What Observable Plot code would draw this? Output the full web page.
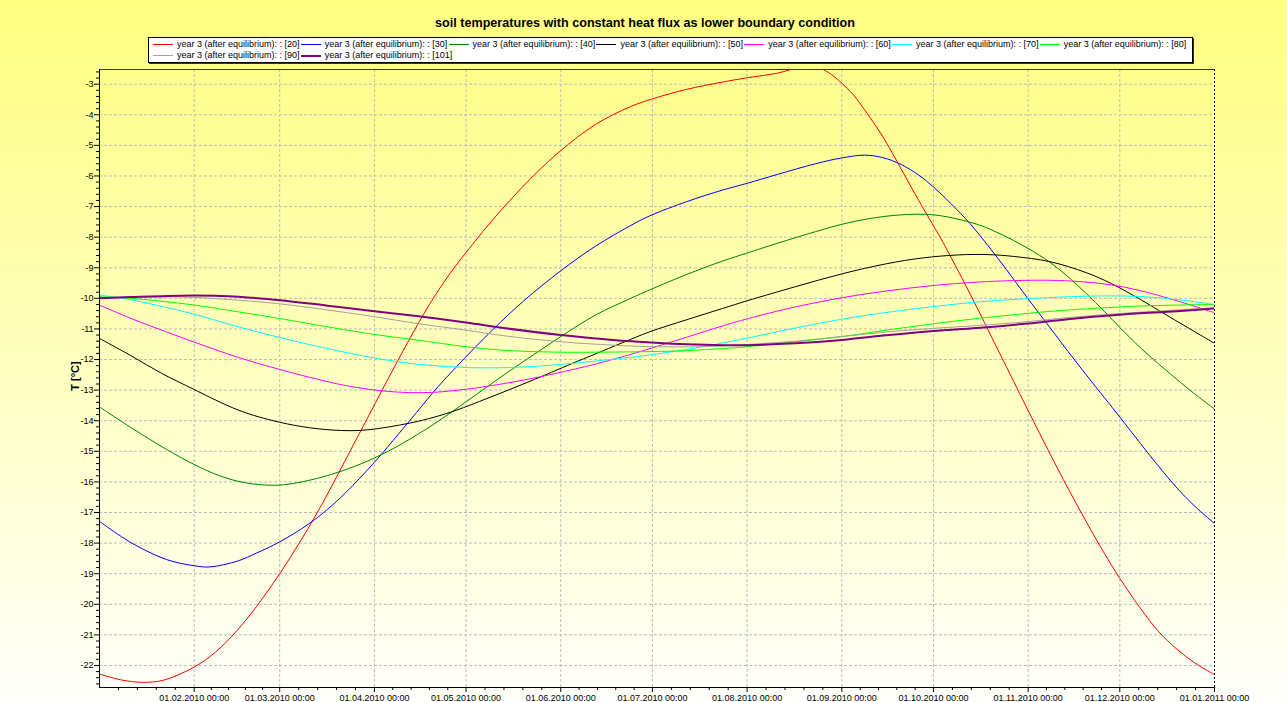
<!DOCTYPE html>
<html><head><meta charset="utf-8">
<script src="https://cdn.jsdelivr.net/npm/d3@7"></script>
<script src="https://cdn.jsdelivr.net/npm/@observablehq/plot@0.6"></script>
<style>
html,body{margin:0;padding:0;}
body{width:1287px;height:702px;overflow:hidden;background:linear-gradient(to bottom,#ffff80 0%,#fffffb 100%);font-family:Arial,"Liberation Sans",sans-serif;}
#wrap{position:relative;width:1287px;height:702px;}
#chart{position:absolute;left:0;top:0;}
#title{position:absolute;left:0;width:1290px;top:16px;text-align:center;font-weight:bold;font-size:12.6px;color:#000;}
#legend{position:absolute;left:148px;top:37px;width:1043px;height:24px;background:#fff;border:1px solid #000;box-shadow:1px 1px 0 #333;}
.item{position:absolute;font-size:9px;line-height:11px;white-space:nowrap;color:#000;}
.sw{position:absolute;left:0;top:5px;width:20px;height:0;border-top:1px solid;}
.lbl{position:absolute;left:24px;top:0;}
#ylab{position:absolute;left:75px;top:376px;transform:translate(-50%,-50%) rotate(-90deg);font-weight:bold;font-size:11px;white-space:nowrap;}
</style></head>
<body><div id="wrap"><div id="chart"></div>
<div id="title">soil temperatures with constant heat flux as lower boundary condition</div>
<div id="legend"></div>
<div id="ylab">T [°C]</div>
</div>
<script>
// series: [day offset from 01.01.2010, temperature °C]
const s20 = [[0,-22.28],[7,-22.47],[14,-22.55],[21,-22.48],[31,-22.05],[38,-21.56],[45,-20.86],[52,-19.99],[59,-19.0],[66,-17.9],[73,-16.7],[80,-15.38],[87,-14.05],[94,-12.72],[101,-11.42],[108,-10.2],[115,-9.15],[122,-8.25],[129,-7.4],[136,-6.62],[143,-5.9],[151,-5.17],[162.3,-4.32],[173.9,-3.73],[181,-3.48],[192.2,-3.17],[204,-2.93],[212,-2.79],[221.9,-2.64],[229,-2.46],[235,-2.46],[238.5,-2.61],[243,-2.97],[246.8,-3.35],[251.6,-4.0],[256.4,-4.71],[261.1,-5.53],[265.9,-6.4],[270.6,-7.22],[275.4,-8.04],[278.9,-8.69],[283.7,-9.6],[288.5,-10.55],[293.3,-11.52],[296.8,-12.22],[304,-13.67],[311.1,-15.07],[317,-16.2],[323,-17.3],[328.9,-18.33],[334,-19.15],[340.8,-20.14],[346.8,-20.9],[352.7,-21.47],[358.6,-21.92],[365,-22.3]];
const s30 = [[0,-17.29],[10.4,-17.99],[22,-18.54],[31,-18.74],[36.1,-18.78],[45.4,-18.58],[51.3,-18.33],[59,-17.96],[68.4,-17.38],[74.6,-16.9],[80.5,-16.36],[90,-15.36],[98,-14.42],[103.8,-13.73],[110.9,-12.88],[122.5,-11.65],[129.5,-10.95],[138.9,-10.08],[151,-9.1],[162.3,-8.3],[173.9,-7.62],[180.2,-7.3],[192.2,-6.84],[204,-6.46],[212,-6.24],[221.9,-5.95],[234.4,-5.6],[243,-5.41],[250.4,-5.32],[256.4,-5.4],[262.3,-5.62],[268.3,-5.98],[273,-6.36],[278.9,-6.92],[284.9,-7.55],[290.9,-8.28],[296.8,-9.05],[304,-10.02],[311.1,-10.95],[317,-11.73],[323,-12.5],[328.9,-13.24],[334,-13.88],[340.8,-14.75],[346.8,-15.5],[352.7,-16.2],[358.6,-16.8],[365,-17.36]];
const s40 = [[0,-13.55],[10.4,-14.23],[22,-14.94],[31,-15.43],[39.6,-15.81],[47.8,-16.03],[57.1,-16.11],[63.4,-16.05],[71.1,-15.89],[78.2,-15.68],[84.6,-15.45],[91,-15.17],[98,-14.81],[106.2,-14.32],[115.5,-13.7],[120,-13.38],[127.2,-12.87],[133,-12.46],[142,-11.85],[151,-11.25],[162.3,-10.55],[173.9,-10.0],[180.2,-9.72],[192.2,-9.22],[204,-8.78],[212,-8.52],[221.9,-8.2],[234.4,-7.82],[243,-7.58],[251.6,-7.4],[261.1,-7.28],[268.3,-7.25],[275.4,-7.3],[287.3,-7.58],[294.4,-7.87],[304,-8.37],[311.1,-8.82],[317,-9.29],[323,-9.84],[328.9,-10.42],[334,-10.95],[340.8,-11.62],[346.8,-12.15],[351.5,-12.55],[356.3,-12.95],[365,-13.62]];
const s50 = [[0,-11.31],[10.4,-11.88],[20.3,-12.45],[31,-12.98],[39.6,-13.4],[47.8,-13.74],[59,-14.05],[68.8,-14.23],[79.3,-14.32],[87.5,-14.3],[101.5,-14.08],[109.7,-13.88],[116.7,-13.66],[127.2,-13.26],[142.4,-12.65],[156.4,-12.06],[162.3,-11.82],[171.2,-11.45],[180.2,-11.09],[192.2,-10.7],[204,-10.33],[212,-10.08],[227.8,-9.62],[243,-9.2],[257.6,-8.87],[269.4,-8.68],[281.3,-8.58],[290.9,-8.57],[299.2,-8.63],[311.1,-8.8],[323,-9.16],[331.3,-9.52],[340.8,-10.04],[348,-10.47],[356.3,-10.96],[365,-11.47]];
const s60 = [[0,-10.22],[10.4,-10.66],[22,-11.1],[31,-11.43],[45.4,-11.93],[61.8,-12.4],[68.8,-12.58],[80.5,-12.85],[92.2,-13.02],[101.5,-13.08],[109.7,-13.07],[120,-12.97],[127.2,-12.87],[138.9,-12.67],[149.5,-12.45],[162.3,-12.15],[173.9,-11.83],[181.5,-11.6],[192.2,-11.27],[204,-10.9],[212,-10.67],[227.8,-10.28],[243,-9.98],[257.6,-9.76],[273,-9.58],[287.3,-9.47],[299.2,-9.42],[311.1,-9.41],[320.6,-9.45],[331.3,-9.56],[340.8,-9.75],[352.7,-10.08],[365,-10.47]];
const s70 = [[0,-9.89],[10.4,-10.05],[22,-10.3],[31,-10.52],[45.4,-10.93],[59,-11.28],[74.6,-11.64],[90,-11.95],[103.8,-12.15],[120,-12.26],[130,-12.27],[140,-12.24],[151,-12.16],[168.1,-11.99],[180.2,-11.85],[192.2,-11.67],[204,-11.46],[212,-11.3],[227.8,-10.97],[243,-10.68],[257.6,-10.46],[273,-10.27],[287.3,-10.12],[304,-10.01],[317,-9.95],[328.9,-9.92],[340.8,-9.94],[352.7,-10.04],[365,-10.2]];
const s80 = [[0,-9.95],[10.4,-10.0],[31,-10.22],[45.4,-10.44],[59,-10.66],[74.6,-10.93],[90,-11.18],[103.8,-11.36],[120,-11.58],[133,-11.7],[151,-11.76],[162.3,-11.76],[180.2,-11.74],[192.2,-11.71],[204,-11.64],[212,-11.58],[227.8,-11.42],[243,-11.25],[257.6,-11.04],[273,-10.83],[287.3,-10.66],[304,-10.49],[317,-10.38],[328.9,-10.31],[340.8,-10.25],[352.7,-10.22],[365,-10.2]];
const s90 = [[0,-9.98],[22,-9.95],[31,-9.97],[45.4,-10.06],[59,-10.18],[74.6,-10.38],[90,-10.6],[103.8,-10.82],[120,-11.04],[133,-11.23],[151,-11.42],[168.1,-11.53],[180.2,-11.58],[197,-11.58],[212,-11.51],[227.8,-11.4],[243,-11.25],[257.6,-11.1],[273,-10.98],[287.3,-10.89],[304,-10.76],[317,-10.63],[334.9,-10.49],[352.7,-10.38],[365,-10.31]];
const s101 = [[0,-10.0],[10.4,-9.96],[22,-9.92],[31,-9.91],[39.6,-9.92],[45.4,-9.95],[59,-10.06],[74.6,-10.24],[90,-10.42],[103.8,-10.58],[120,-10.79],[133,-10.98],[151,-11.2],[168.1,-11.36],[181.9,-11.45],[192.2,-11.5],[204,-11.53],[212,-11.53],[227.8,-11.47],[243,-11.36],[257.6,-11.21],[273,-11.07],[287.3,-10.97],[304,-10.82],[317,-10.68],[334.9,-10.53],[352.7,-10.42],[365,-10.33]];

const seriesNames = ["[20]","[30]","[40]","[50]","[60]","[70]","[80]","[90]","[101]"];
const seriesData = [s20,s30,s40,s50,s60,s70,s80,s90,s101];
const seriesColors = ["#ff0000","#0000ff","#008000","#000000","#ff00ff","#00ffff","#00ff00","#a0a0a0","#800080"];
const seriesWidths = [1,1,1,1,1,1,1,1,2];
const legendPrefix = "year 3 (after equilibrium): : ";
const yTicks = [-22,-21,-20,-19,-18,-17,-16,-15,-14,-13,-12,-11,-10,-9,-8,-7,-6,-5,-4,-3];
const xTickFormat = "%d.%m.%Y %H:%M";

const D0 = Date.UTC(2010,0,1);
const toDate = d => new Date(D0 + d*864e5);
const x0 = new Date(D0), x1 = new Date(Date.UTC(2011,0,1));
const yMin = -22.72, yMax = -2.52;
const monthTicks = d3.utcMonth.range(new Date(Date.UTC(2010,1,1)), new Date(Date.UTC(2011,0,2)));
const minorX = [];
d3.utcMonth.range(x0, x1).forEach(m => {
  const n = d3.utcMonth.offset(m, 1);
  for (let k = 1; k < 5; k++) minorX.push(new Date(+m + (n - m) * k / 5));
});
const minorY = d3.range(-113, -12).map(i => i / 5).filter(v => !Number.isInteger(v) && v > yMin && v < yMax);

const gridStyle = {stroke: "#bcbcbc", strokeOpacity: 1, strokeDasharray: "3,2"};
const lines = seriesData.map((s, i) => Plot.line(s, {
  x: d => toDate(d[0]), y: d => d[1], stroke: seriesColors[i], strokeWidth: seriesWidths[i],
  curve: "catmull-rom", clip: true
}));

const chart = Plot.plot({
  width: 1287, height: 702,
  marginLeft: 99, marginRight: 73, marginTop: 69, marginBottom: 15,
  style: {background: "transparent", fontFamily: "Arial, 'Liberation Sans', sans-serif", fontSize: "9px", color: "#000", overflow: "visible"},
  x: {type: "utc", domain: [x0, x1], label: null},
  y: {domain: [yMin, yMax], label: null},
  marks: [
    Plot.gridY(yTicks, gridStyle),
    Plot.gridX(monthTicks.slice(0, -1), gridStyle),
    ...lines,
    Plot.ruleY([yMax], {stroke: "#333"}),
    Plot.ruleX([x1], {stroke: "#000", strokeDasharray: "2,2"}),
    Plot.ruleX([x0], {stroke: "#000"}),
    Plot.ruleY([yMin], {stroke: "#000"}),
    Plot.axisY(yTicks, {tickSize: 5, tickPadding: 1, tickFormat: d => String(d), fontSize: 9}),
    Plot.axisY(minorY, {tickSize: 3, tickFormat: () => ""}),
    Plot.axisX(monthTicks, {tickSize: 5, tickPadding: 2, tickFormat: d3.utcFormat(xTickFormat), fontSize: 9}),
    Plot.axisX(minorX, {tickSize: 3, tickFormat: () => ""})
  ]
});
document.getElementById("chart").appendChild(chart);

const legend = document.getElementById("legend");
seriesNames.forEach((name, i) => {
  const row = i < 7 ? 0 : 1, col = i < 7 ? i : i - 7;
  const it = document.createElement("div");
  it.className = "item";
  it.style.left = (4 + col * 147.8) + "px";
  it.style.top = (1 + row * 11) + "px";
  const sw = document.createElement("div");
  sw.className = "sw";
  sw.style.borderTopColor = seriesColors[i];
  sw.style.borderTopWidth = seriesWidths[i] + "px";
  const lb = document.createElement("div");
  lb.className = "lbl";
  lb.textContent = legendPrefix + name;
  it.appendChild(sw); it.appendChild(lb);
  legend.appendChild(it);
});
</script>
</body></html>
